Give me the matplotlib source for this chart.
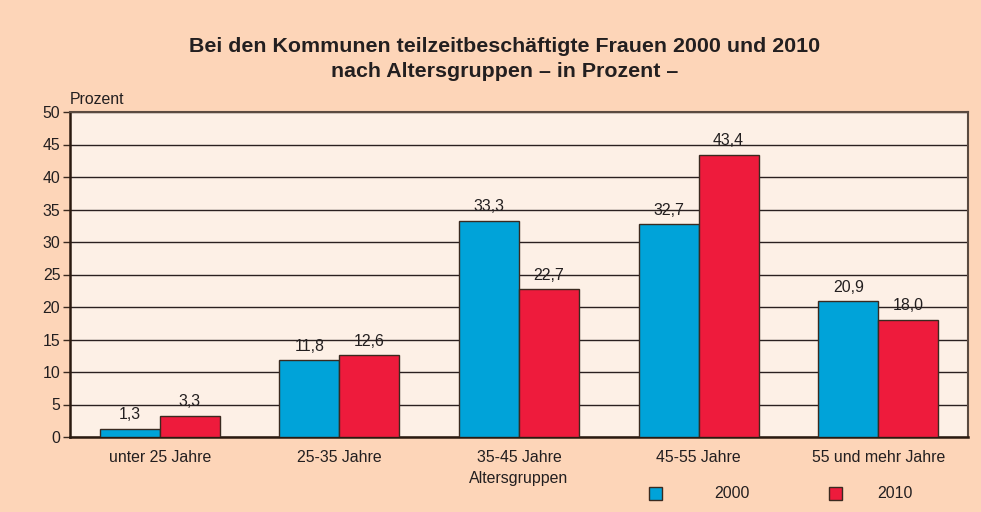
import matplotlib
matplotlib.use("Agg")
import matplotlib.pyplot as plt
import numpy as np
from matplotlib.patches import Rectangle

categories = ["unter 25 Jahre", "25-35 Jahre", "35-45 Jahre", "45-55 Jahre", "55 und mehr Jahre"]
values_2000 = [1.3, 11.8, 33.3, 32.7, 20.9]
values_2010 = [3.3, 12.6, 22.7, 43.4, 18.0]
series_names = ["2000", "2010"]
yticks = [0, 5, 10, 15, 20, 25, 30, 35, 40, 45, 50]

plt.rcParams['font.family'] = ['Liberation Sans', 'DejaVu Sans']

bg = "#FDD5B8"
axbg = "#FDF0E6"
blue = "#00A3D9"
red = "#EE1B3C"
edge = "#3a2a20"
txt = "#231f20"
fs = 11.4

fig = plt.figure(figsize=(9.81, 5.12), dpi=100, facecolor=bg)
ax = fig.add_axes([70/981, 1-437/512, 898/981, 325/512])
ax.set_facecolor(axbg)

x = np.arange(len(categories))
w = 0.334
b1 = ax.bar(x - w/2, values_2000, w, color=blue, edgecolor=edge, linewidth=1, zorder=3)
b2 = ax.bar(x + w/2, values_2010, w, color=red, edgecolor=edge, linewidth=1, zorder=3)

for rect, v in zip(list(b1) + list(b2), values_2000 + values_2010):
    ax.text(rect.get_x() + rect.get_width()/2, v + 1.0, f"{v:.1f}".replace(".", ","),
            ha="center", va="bottom", fontsize=fs, color=txt, zorder=4)

ax.set_xlim(-0.5, len(categories) - 0.5)
ax.set_ylim(0, 50)
ax.set_yticks(yticks)
ax.set_yticklabels([str(t) for t in yticks], fontsize=fs, color=txt)
ax.set_xticks(x)
ax.set_xticklabels(categories, fontsize=fs, color=txt)
ax.tick_params(axis="x", length=0, pad=9)
ax.tick_params(axis="y", length=5, width=1, color=edge, pad=2)
ax.yaxis.grid(True, color="#2a2020", linewidth=1)
ax.set_axisbelow(True)
for s in ["left", "bottom"]:
    ax.spines[s].set_color("#2a1a10")
    ax.spines[s].set_linewidth(1.8)
for s in ["top", "right"]:
    ax.spines[s].set_color("#5a4a40")
    ax.spines[s].set_linewidth(1.5)

fig.text(70/981, 1-100/512, "Prozent", fontsize=fs, color=txt, ha="left", va="center")
fig.text(519/981, 1-478/512, "Altersgruppen", fontsize=fs, color=txt, ha="center", va="center")
fig.text(505/981, 1-59/512, "Bei den Kommunen teilzeitbeschäftigte Frauen 2000 und 2010\nnach Altersgruppen – in Prozent –",
         fontsize=15.4, fontweight="bold", color=txt, ha="center", va="center", linespacing=1.4)

# legend
for sx, lx, col, name in [(655, 732, blue, series_names[0]), (835, 895, red, series_names[1])]:
    fig.patches.append(Rectangle((sx/981 - 6.5/981, 1-500/512), 13/981, 13/512,
                                 transform=fig.transFigure, facecolor=col, edgecolor=edge, linewidth=1))
    fig.text(lx/981, 1-493/512, name, fontsize=fs, color=txt, ha="center", va="center")

fig.savefig("out.png", dpi=100, facecolor=bg)
